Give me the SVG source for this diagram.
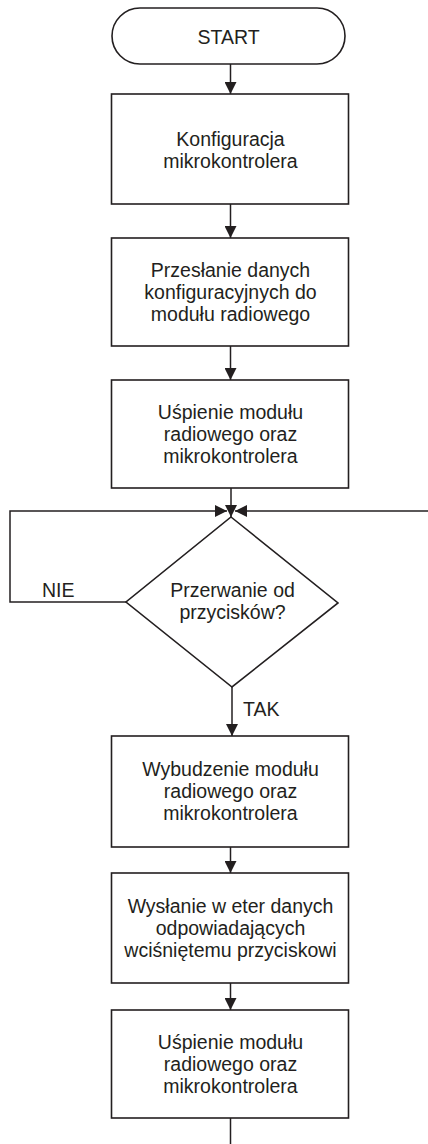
<svg xmlns="http://www.w3.org/2000/svg" width="428" height="1144" viewBox="0 0 428 1144">
<defs>
<marker id="ah" markerWidth="12" markerHeight="12" viewBox="0 0 12 12" refX="12" refY="6" orient="auto" markerUnits="userSpaceOnUse">
<path d="M0,0 L12,6 L0,12 Z" fill="#231f20"/>
</marker>
<style>
.shape{fill:#fff;stroke:#231f20;stroke-width:1.6}
.line{fill:none;stroke:#231f20;stroke-width:1.5}
.t{font-family:"Liberation Sans",Arial,sans-serif;font-size:19.5px;fill:#231f20;text-anchor:middle}
.l{font-family:"Liberation Sans",Arial,sans-serif;font-size:19.5px;fill:#231f20}
</style>
</defs>
<rect width="428" height="1144" fill="#fff"/>
<g id="connectors">
<line class="line" x1="230.5" y1="64" x2="230.5" y2="94" marker-end="url(#ah)"/>
<line class="line" x1="230.5" y1="204" x2="230.5" y2="238" marker-end="url(#ah)"/>
<line class="line" x1="230.5" y1="346" x2="230.5" y2="380" marker-end="url(#ah)"/>
<line class="line" x1="231" y1="488" x2="231" y2="517" marker-end="url(#ah)"/>
<polyline class="line" points="126,602 10,602 10,511 227,511" marker-end="url(#ah)"/>
<line class="line" x1="428" y1="511" x2="235" y2="511" marker-end="url(#ah)"/>
<line class="line" x1="232" y1="687" x2="232" y2="736" marker-end="url(#ah)"/>
<line class="line" x1="230.5" y1="847" x2="230.5" y2="873" marker-end="url(#ah)"/>
<line class="line" x1="230.5" y1="983" x2="230.5" y2="1010" marker-end="url(#ah)"/>
<line class="line" x1="230.5" y1="1118" x2="230.5" y2="1144"/>
<text class="l" x="42" y="597">NIE</text>
<text class="l" x="243" y="716">TAK</text>
</g>
<g id="start">
<rect class="shape" x="112" y="8" width="233" height="56" rx="28" ry="28"/>
<text class="t" x="228.5" y="44">START</text>
</g>
<g id="box1">
<rect class="shape" x="111.5" y="94" width="237" height="110"/>
<text class="t" x="230.5" y="146">Konfiguracja</text>
<text class="t" x="230.5" y="168">mikrokontrolera</text>
</g>
<g id="box2">
<rect class="shape" x="111.5" y="238" width="237" height="108"/>
<text class="t" x="230.5" y="277">Przesłanie danych</text>
<text class="t" x="230.5" y="299">konfiguracyjnych do</text>
<text class="t" x="230.5" y="321">modułu radiowego</text>
</g>
<g id="box3">
<rect class="shape" x="111.5" y="380" width="237" height="108"/>
<text class="t" x="230.5" y="419">Uśpienie modułu</text>
<text class="t" x="230.5" y="441">radiowego oraz</text>
<text class="t" x="230.5" y="463">mikrokontrolera</text>
</g>
<g id="decision">
<polygon class="shape" points="231,517 338,603 232,687 126,602"/>
<text class="t" x="232.5" y="597">Przerwanie od</text>
<text class="t" x="232.5" y="619">przycisków?</text>
</g>
<g id="box4">
<rect class="shape" x="111.5" y="736" width="237" height="111"/>
<text class="t" x="230.5" y="776">Wybudzenie modułu</text>
<text class="t" x="230.5" y="798">radiowego oraz</text>
<text class="t" x="230.5" y="820">mikrokontrolera</text>
</g>
<g id="box5">
<rect class="shape" x="111.5" y="873" width="237" height="110"/>
<text class="t" x="230.5" y="913">Wysłanie w eter danych</text>
<text class="t" x="230.5" y="935">odpowiadających</text>
<text class="t" x="230.5" y="957">wciśniętemu przyciskowi</text>
</g>
<g id="box6">
<rect class="shape" x="111.5" y="1010" width="237" height="108"/>
<text class="t" x="230.5" y="1049">Uśpienie modułu</text>
<text class="t" x="230.5" y="1071">radiowego oraz</text>
<text class="t" x="230.5" y="1093">mikrokontrolera</text>
</g>
</svg>
